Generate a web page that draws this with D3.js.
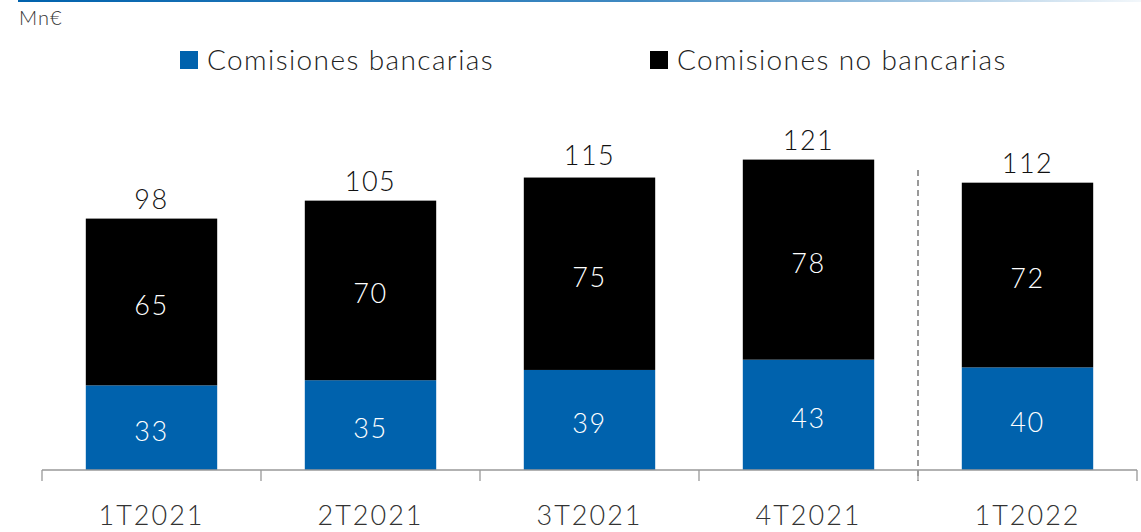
<!DOCTYPE html>
<html>
<head>
<meta charset="utf-8">
<script src="https://d3js.org/d3.v7.min.js"></script>
<style>
  body { margin: 0; background: #fff; }
  svg { display: block; font-family: Lato, "Open Sans", sans-serif; font-weight: 300; }
</style>
</head>
<body>
<svg id="chart"></svg>
<script>
  // data
  var categories = ["1T2021", "2T2021", "3T2021", "4T2021", "1T2022"];
  var bancarias = [33, 35, 39, 43, 40];
  var noBancarias = [65, 70, 75, 78, 72];
  var totals = [98, 105, 115, 121, 112];
  var seriesNames = ["Comisiones bancarias", "Comisiones no bancarias"];
  var unitLabel = "Mn€";

  var W = 1141, H = 532;
  var blue = "#0062ad", black = "#000";

  var svg = d3.select("#chart").attr("width", W).attr("height", H);

  // thin gradient rule along the top
  var grad = svg.append("defs").append("linearGradient").attr("id", "topline");
  grad.append("stop").attr("offset", "0%").attr("stop-color", blue);
  grad.append("stop").attr("offset", "55%").attr("stop-color", blue).attr("stop-opacity", 0.75);
  grad.append("stop").attr("offset", "100%").attr("stop-color", blue).attr("stop-opacity", 0.05);
  svg.append("rect").attr("x", 18).attr("y", 0).attr("width", W - 18).attr("height", 2)
    .attr("fill", "url(#topline)");

  svg.append("text").attr("x", 19).attr("y", 25)
    .style("font-size", "20px").style("letter-spacing", "1px").attr("fill", "#333").text(unitLabel);

  // legend
  var legend = [{name: seriesNames[0], color: blue, x: 180}, {name: seriesNames[1], color: black, x: 650}];
  legend.forEach(function(l) {
    svg.append("rect").attr("x", l.x).attr("y", 51).attr("width", 18).attr("height", 18).attr("fill", l.color);
    svg.append("text").attr("x", l.x + 27).attr("y", 70)
      .style("font-size", "28px").style("letter-spacing", "1.4px")
      .attr("fill", "#222").text(l.name);
  });

  var x = d3.scaleBand()
    .domain(categories)
    .range([42, 1137])
    .paddingInner(0.4)
    .paddingOuter(0.2);

  var y = d3.scaleLinear()
    .domain([0, 130])
    .range([470, 136.5]);

  var data = categories.map(function(c, i) {
    return {cat: c, b: bancarias[i], n: noBancarias[i], t: totals[i]};
  });

  var g = svg.selectAll("g.bar").data(data).enter().append("g").attr("class", "bar");

  g.append("rect")
    .attr("x", d => x(d.cat)).attr("width", x.bandwidth())
    .attr("y", d => y(d.b)).attr("height", d => y(0) - y(d.b))
    .attr("fill", blue);

  g.append("rect")
    .attr("x", d => x(d.cat)).attr("width", x.bandwidth())
    .attr("y", d => y(d.b + d.n)).attr("height", d => y(d.b) - y(d.b + d.n))
    .attr("fill", black);

  var cx = d => x(d.cat) + x.bandwidth() / 2;
  var valStyle = function(sel) {
    sel.attr("text-anchor", "middle").style("font-size", "27px").style("letter-spacing", "1.5px");
  };

  g.append("text")
    .attr("x", cx).attr("y", d => (y(0) + y(d.b)) / 2 + 13)
    .attr("fill", "#fff").call(valStyle).text(d => d.b);

  g.append("text")
    .attr("x", cx).attr("y", d => (y(d.b) + y(d.b + d.n)) / 2 + 13)
    .attr("fill", "#fff").call(valStyle).text(d => d.n);

  g.append("text")
    .attr("x", cx).attr("y", d => y(d.t) - 10)
    .attr("fill", "#111").call(valStyle).text(d => d.t);

  // x axis: baseline with ticks between categories
  var half = x.step() / 2;
  var bounds = categories.map(c => x(c) + x.bandwidth() / 2 - half);
  bounds.push(x(categories[categories.length - 1]) + x.bandwidth() / 2 + half);

  svg.append("line").attr("x1", bounds[0]).attr("x2", bounds[bounds.length - 1])
    .attr("y1", y(0)).attr("y2", y(0)).attr("stroke", "#999").attr("stroke-width", 1.3);
  svg.selectAll("line.tick").data(bounds).enter().append("line").attr("class", "tick")
    .attr("x1", d => d).attr("x2", d => d).attr("y1", y(0)).attr("y2", y(0) + 11)
    .attr("stroke", "#999").attr("stroke-width", 1.3);

  svg.selectAll("text.xlab").data(categories).enter().append("text").attr("class", "xlab")
    .attr("x", c => x(c) + x.bandwidth() / 2).attr("y", 525)
    .attr("text-anchor", "middle").attr("fill", "#333")
    .style("font-size", "27px").style("letter-spacing", "2px").text(c => c);

  // dashed separator before the last quarter
  svg.append("line").attr("x1", bounds[4]).attr("x2", bounds[4])
    .attr("y1", 170).attr("y2", y(0) + 11)
    .attr("stroke", "#999").attr("stroke-width", 2).attr("stroke-dasharray", "6,4");
</script>
</body>
</html>
